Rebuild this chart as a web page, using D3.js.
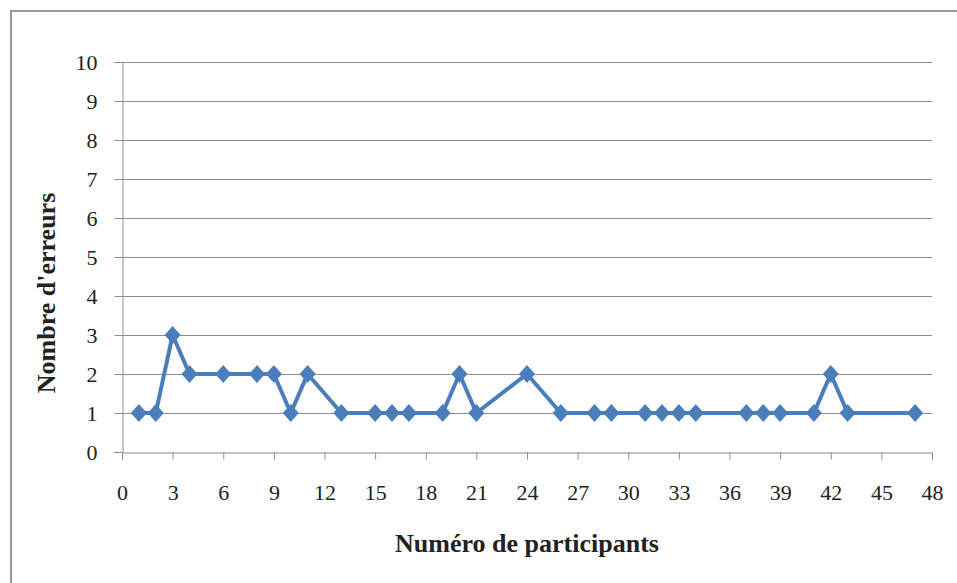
<!DOCTYPE html>
<html>
<head>
<meta charset="utf-8">
<script src="https://cdn.jsdelivr.net/npm/d3@7"></script>
<style>
body{margin:0;background:#fff;}
svg{display:block;}
</style>
</head>
<body>
<svg width="957" height="583"></svg>
<script>
// numéro de participant / nombre d'erreurs
var participants = [1,2,3,4,6,8,9,10,11,13,15,16,17,19,20,21,24,26,28,29,31,32,33,34,37,38,39,41,42,43,47];
var erreurs      = [1,1,3,2,2,2,2,1,2,1,1,1,1,1,2,1,2,1,1,1,1,1,1,1,1,1,1,1,2,1,1];
var xTicks = d3.range(0,49,3);
var yTicks = d3.range(0,11,1);

var marge = {top:62,left:122,right:24,bottom:131};
var width = 957, height = 583;
var svg = d3.select("svg");

// cadre
svg.append("path")
   .attr("d","M11,583 L11,11 L957,11")
   .attr("fill","none").attr("stroke","#9a9a9a").attr("stroke-width",2);

var x = d3.scaleLinear().domain([0,48]).range([marge.left, width-marge.right-1]);
var y = d3.scaleLinear().domain([0,10]).range([height-marge.bottom, marge.top]);

// grille
svg.append("g").selectAll("line").data(yTicks.slice(1)).enter().append("line")
   .attr("x1",x(0)).attr("x2",x(48))
   .attr("y1",function(d){return y(d)+0.5;}).attr("y2",function(d){return y(d)+0.5;})
   .attr("stroke","#8c8c8c").attr("stroke-width",1);

var fnt = "'Liberation Serif','Times New Roman',serif";

var axeY = svg.append("g").attr("transform","translate("+(x(0)+0.5)+",0)")
   .call(d3.axisLeft(y).tickValues(yTicks).tickSize(8).tickPadding(17));
var axeX = svg.append("g").attr("transform","translate(0,"+(y(0)+0.5)+")")
   .call(d3.axisBottom(x).tickValues(xTicks).tickSize(7).tickPadding(25));

[axeY,axeX].forEach(function(a){
  a.select(".domain").attr("stroke","#8c8c8c");
  a.selectAll(".tick line").attr("stroke","#8c8c8c");
  a.selectAll("text").style("font-family",fnt).style("font-size","22px").attr("fill","#222");
});

// titres des axes
svg.append("text").attr("x",527).attr("y",552).attr("text-anchor","middle")
   .style("font-family",fnt).style("font-size","26px").style("font-weight","bold").attr("fill","#222")
   .text("Numéro de participants");
svg.append("text").attr("transform","translate(55,293) rotate(-90)").attr("text-anchor","middle")
   .style("font-family",fnt).style("font-size","26px").style("font-weight","bold").attr("fill","#222")
   .text("Nombre d'erreurs");

var pts = participants.map(function(p,i){return [p, erreurs[i]];});

svg.append("path").datum(pts)
   .attr("d", d3.line().x(function(d){return x(d[0]);}).y(function(d){return y(d[1]);}))
   .attr("fill","none").attr("stroke","#4a7ebb").attr("stroke-width",4).attr("stroke-linejoin","round");

svg.append("g").selectAll("path").data(pts).enter().append("path")
   .attr("transform",function(d){return "translate("+x(d[0])+","+y(d[1])+")";})
   .attr("d","M0,-9L8,0L0,9L-8,0Z")
   .attr("fill","#4a7ebb");
</script>
</body>
</html>
